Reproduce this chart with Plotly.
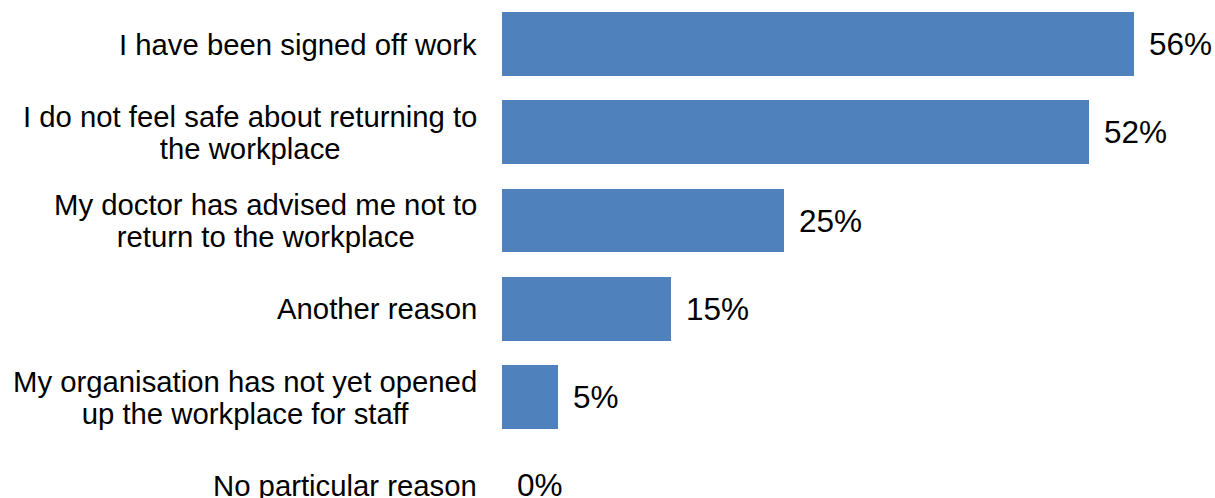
import plotly.graph_objects as go

# Survey reasons and share of respondents (%)
reasons = [
    "I have been signed off work",
    "I do not feel safe about returning to<br>the workplace",
    "My doctor has advised me not to<br>return to the workplace",
    "Another reason",
    "My organisation has not yet opened<br>up the workplace for staff",
    "No particular reason",
]
shares = [56, 52, 25, 15, 5, 0]

positions = list(range(len(reasons)))
BAR_COLOR = "#4F81BD"
FONT = "Liberation Sans, Arial, sans-serif"
LABEL_FS = 29.3
VALUE_FS = 31.5
LINE_GAP = 32  # baseline-to-baseline distance of wrapped labels


def styled(label):
    # set glyph size per line while the annotation font drives line spacing
    lines = label.split("<br>")
    return "<br>".join(
        f'<span style="font-size:{LABEL_FS}px">{ln}</span>' for ln in lines
    )


fig = go.Figure(
    go.Bar(
        x=shares,
        y=positions,
        orientation="h",
        width=0.725,
        marker=dict(color=BAR_COLOR, line=dict(width=0)),
        hoverinfo="skip",
    )
)

annotations = []
for pos, label, val in zip(positions, reasons, shares):
    # category label, right-aligned block to the left of the axis
    annotations.append(dict(
        x=0, xref="paper", y=pos, yref="y",
        text=styled(label), showarrow=False,
        xanchor="right", yanchor="middle", align="center",
        xshift=-23,
        font=dict(family=FONT, size=LINE_GAP / 1.3, color="#000000"),
    ))
    # value label just past the bar end
    annotations.append(dict(
        x=val, xref="x", y=pos, yref="y",
        text=f"{val}%", showarrow=False,
        xanchor="left", yanchor="middle",
        xshift=13, font=dict(family=FONT, size=VALUE_FS, color="#000000"),
    ))

fig.update_layout(
    width=1215, height=498,
    margin=dict(l=502, r=0, t=0, b=0),
    paper_bgcolor="white", plot_bgcolor="white",
    showlegend=False,
    annotations=annotations,
    bargap=0,
)
fig.update_xaxes(range=[0, 713 / (632 / 56)], visible=False, fixedrange=True)
fig.update_yaxes(range=[5.1445, -0.4986], visible=False, fixedrange=True)

fig.write_html("out.html")
